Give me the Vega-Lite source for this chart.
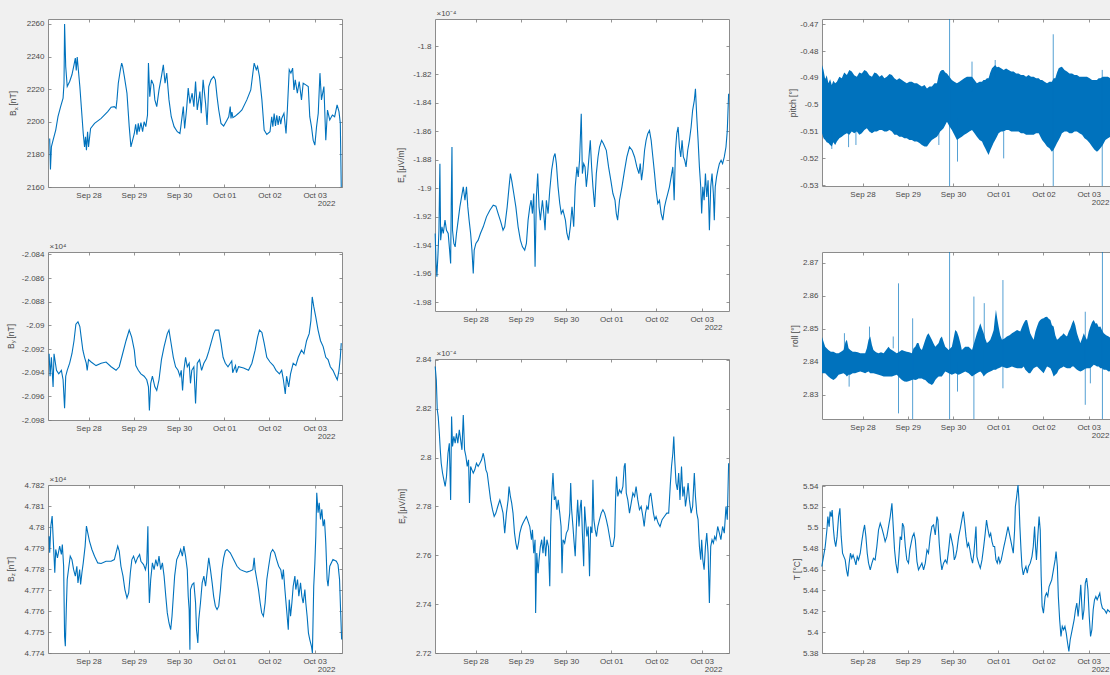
{
  "$schema": "https://vega.github.io/schema/vega-lite/v6.json",
  "background": "#f0f0f0",
  "autosize": {"type": "none"},
  "padding": {"left": 48, "top": 19, "right": 1062, "bottom": 656},
  "bounds": "flush",
  "spacing": 387,
  "config": {
    "view": {"stroke": "#8c8c8c", "strokeWidth": 1, "fill": "#ffffff"},
    "font": "Liberation Sans",
    "line": {"color": "#0072BD", "strokeWidth": 1.1, "clip": true},
    "axis": {"grid": false, "domain": false, "ticks": true, "tickSize": -3, "tickColor": "#7a7a7a", "tickWidth": 0.8,
      "labelFont": "Liberation Sans", "labelFontSize": 8, "labelColor": "#4a4a4a", "labelFlush": false, "labelOverlap": false,
      "titleFont": "Liberation Sans", "titleFontSize": 8.5, "titleFontWeight": "normal", "titleColor": "#4a4a4a"},
    "axisX": {"labelPadding": 7, "titleAngle": 0, "titleBaseline": "alphabetic", "titleFontSize": 8},
    "axisY": {"labelPadding": 7, "titleAngle": -90, "titleBaseline": "alphabetic", "titleAlign": "center"}
  },
  "datasets": {
    "bx": [
      {"t":3.4,"v":2189.8},{"t":3.8,"v":2170.7},{"t":4.3,"v":2184.6},{"t":5.2,"v":2188.7},{"t":6.6,"v":2194.9},{"t":7.8,"v":2203.1},{"t":9.2,"v":2209.3},{"t":10.5,"v":2214.4},{"t":11.0,"v":2223.6},{"t":11.3,"v":2260},{"t":11.9,"v":2233.9},{"t":12.7,"v":2221.6},{"t":14.0,"v":2224.7},{"t":15.2,"v":2228.8},{"t":16.3,"v":2234.9},{"t":17.0,"v":2239},{"t":17.5,"v":2231.5},{"t":18.0,"v":2239.7},{"t":18.6,"v":2231.9},{"t":19.4,"v":2221.6},{"t":20.3,"v":2207.2},{"t":21.2,"v":2192.8},{"t":21.9,"v":2184.6},{"t":22.4,"v":2190.8},{"t":22.9,"v":2182.6},{"t":23.5,"v":2193.9},{"t":24.0,"v":2184.5},{"t":25.1,"v":2195.9},{"t":27.2,"v":2199},{"t":30.7,"v":2202.1},{"t":34.2,"v":2206.2},{"t":36.0,"v":2208.9},{"t":37.7,"v":2209.3},{"t":38.6,"v":2208.2},{"t":39.1,"v":2213.4},{"t":39.8,"v":2223.6},{"t":40.9,"v":2231.9},{"t":41.6,"v":2236},{"t":42.1,"v":2233.9},{"t":43.0,"v":2227.8},{"t":44.4,"v":2217.5},{"t":45.6,"v":2197},{"t":46.5,"v":2184.6},{"t":47.4,"v":2188.7},{"t":48.3,"v":2192.8},{"t":49.0,"v":2198.5},{"t":49.7,"v":2192},{"t":50.4,"v":2199},{"t":50.9,"v":2193.9},{"t":51.8,"v":2199.5},{"t":52.7,"v":2194},{"t":53.5,"v":2200},{"t":54.4,"v":2197},{"t":55.3,"v":2204.1},{"t":55.8,"v":2236},{"t":56.5,"v":2215.4},{"t":57.4,"v":2225.7},{"t":58.5,"v":2222.6},{"t":59.2,"v":2213.4},{"t":60.2,"v":2209.3},{"t":61.4,"v":2219.5},{"t":62.7,"v":2227.8},{"t":63.7,"v":2234.9},{"t":64.6,"v":2223.6},{"t":65.5,"v":2229.8},{"t":66.7,"v":2213.4},{"t":67.9,"v":2203.1},{"t":69.4,"v":2197},{"t":71.1,"v":2193.9},{"t":72.5,"v":2192.8},{"t":73.2,"v":2199},{"t":74.3,"v":2209.3},{"t":75.0,"v":2195.9},{"t":76.0,"v":2207.2},{"t":76.9,"v":2220.6},{"t":77.8,"v":2211.3},{"t":79.0,"v":2217.5},{"t":79.9,"v":2209.3},{"t":80.8,"v":2224.7},{"t":81.7,"v":2207.2},{"t":83.1,"v":2218.5},{"t":83.8,"v":2205.2},{"t":84.8,"v":2225.7},{"t":86.1,"v":2211.3},{"t":86.9,"v":2198},{"t":87.8,"v":2221.6},{"t":89.0,"v":2225.7},{"t":90.4,"v":2227.8},{"t":91.3,"v":2225.7},{"t":92.2,"v":2215.4},{"t":93.1,"v":2207.2},{"t":94.3,"v":2199},{"t":95.7,"v":2197.4},{"t":97.5,"v":2201.1},{"t":98.4,"v":2203},{"t":98.9,"v":2207},{"t":99.2,"v":2209.3},{"t":99.6,"v":2202},{"t":100.1,"v":2206},{"t":100.6,"v":2202.5},{"t":101.9,"v":2203.5},{"t":103.6,"v":2205.2},{"t":105.4,"v":2207.2},{"t":108.0,"v":2213.4},{"t":110.1,"v":2219.5},{"t":111.2,"v":2229.8},{"t":111.9,"v":2236},{"t":113.0,"v":2231.9},{"t":113.7,"v":2233.9},{"t":114.7,"v":2227.8},{"t":116.0,"v":2213.4},{"t":117.2,"v":2194.9},{"t":118.6,"v":2192.2},{"t":120.3,"v":2193.9},{"t":121.2,"v":2203.1},{"t":121.8,"v":2197},{"t":122.5,"v":2205},{"t":123.2,"v":2197.5},{"t":123.9,"v":2204},{"t":124.6,"v":2198},{"t":125.3,"v":2203.5},{"t":126.0,"v":2198.5},{"t":126.5,"v":2202},{"t":127.7,"v":2205.2},{"t":128.8,"v":2192.8},{"t":129.5,"v":2207.2},{"t":130.5,"v":2231.9},{"t":131.4,"v":2229.8},{"t":132.3,"v":2232.9},{"t":133.0,"v":2219.5},{"t":133.7,"v":2225.7},{"t":134.8,"v":2217.5},{"t":135.8,"v":2224.7},{"t":137.0,"v":2213.4},{"t":137.9,"v":2223.6},{"t":139.3,"v":2222.6},{"t":140.6,"v":2221.6},{"t":141.4,"v":2203.1},{"t":142.3,"v":2197},{"t":143.2,"v":2188.7},{"t":144.1,"v":2185.7},{"t":145.0,"v":2197},{"t":145.9,"v":2205.2},{"t":146.8,"v":2229.8},{"t":147.6,"v":2213.4},{"t":148.9,"v":2221.6},{"t":149.9,"v":2188.7},{"t":150.8,"v":2207.2},{"t":152.0,"v":2201.1},{"t":153.4,"v":2204.1},{"t":154.6,"v":2203.1},{"t":155.9,"v":2210.3},{"t":156.9,"v":2206.2},{"t":157.6,"v":2199},{"t":158.1,"v":2160}
    ],
    "by": [
      {"t":3.1,"v":-2.0924},{"t":3.6,"v":-2.0943},{"t":4.3,"v":-2.0927},{"t":5.2,"v":-2.0952},{"t":5.7,"v":-2.0924},{"t":7.0,"v":-2.0938},{"t":8.2,"v":-2.0941},{"t":9.6,"v":-2.0938},{"t":10.5,"v":-2.0946},{"t":11.3,"v":-2.097},{"t":11.9,"v":-2.0943},{"t":12.7,"v":-2.0938},{"t":14.0,"v":-2.0932},{"t":15.2,"v":-2.0924},{"t":16.3,"v":-2.0913},{"t":17.3,"v":-2.0899},{"t":18.4,"v":-2.0897},{"t":19.4,"v":-2.0901},{"t":20.1,"v":-2.091},{"t":21.0,"v":-2.0921},{"t":21.9,"v":-2.0927},{"t":22.8,"v":-2.0932},{"t":23.3,"v":-2.0938},{"t":24.0,"v":-2.0929},{"t":25.4,"v":-2.0931},{"t":28.0,"v":-2.0934},{"t":30.7,"v":-2.0932},{"t":33.3,"v":-2.0931},{"t":36.0,"v":-2.0935},{"t":38.6,"v":-2.0938},{"t":40.3,"v":-2.0935},{"t":42.1,"v":-2.0924},{"t":43.9,"v":-2.0913},{"t":45.6,"v":-2.0904},{"t":46.9,"v":-2.091},{"t":48.3,"v":-2.0921},{"t":49.1,"v":-2.0934},{"t":50.4,"v":-2.0938},{"t":51.8,"v":-2.0941},{"t":53.5,"v":-2.0943},{"t":54.9,"v":-2.0946},{"t":55.8,"v":-2.0952},{"t":56.3,"v":-2.0972},{"t":57.0,"v":-2.0949},{"t":57.9,"v":-2.0943},{"t":59.2,"v":-2.0952},{"t":60.2,"v":-2.0955},{"t":61.4,"v":-2.0946},{"t":62.7,"v":-2.0929},{"t":64.1,"v":-2.0918},{"t":65.8,"v":-2.0907},{"t":66.7,"v":-2.0904},{"t":67.6,"v":-2.0913},{"t":69.0,"v":-2.0927},{"t":70.2,"v":-2.0935},{"t":71.5,"v":-2.0938},{"t":72.5,"v":-2.0943},{"t":73.2,"v":-2.0938},{"t":73.9,"v":-2.0955},{"t":74.6,"v":-2.0938},{"t":75.5,"v":-2.0927},{"t":76.4,"v":-2.0935},{"t":77.4,"v":-2.0932},{"t":78.1,"v":-2.0949},{"t":78.8,"v":-2.0938},{"t":79.9,"v":-2.0935},{"t":80.8,"v":-2.0966},{"t":81.7,"v":-2.0932},{"t":82.9,"v":-2.0929},{"t":84.0,"v":-2.0938},{"t":85.2,"v":-2.0932},{"t":86.6,"v":-2.0928},{"t":87.8,"v":-2.0922},{"t":89.0,"v":-2.0915},{"t":90.4,"v":-2.0907},{"t":91.3,"v":-2.0904},{"t":93.1,"v":-2.0904},{"t":94.3,"v":-2.0915},{"t":95.4,"v":-2.0927},{"t":96.6,"v":-2.0932},{"t":98.0,"v":-2.0935},{"t":99.2,"v":-2.0932},{"t":100.0,"v":-2.093},{"t":100.5,"v":-2.094},{"t":101.0,"v":-2.0938},{"t":102.0,"v":-2.0934},{"t":102.5,"v":-2.094},{"t":103.6,"v":-2.0935},{"t":106.3,"v":-2.0936},{"t":108.9,"v":-2.0938},{"t":110.7,"v":-2.0932},{"t":112.4,"v":-2.0921},{"t":113.7,"v":-2.091},{"t":114.7,"v":-2.0904},{"t":116.0,"v":-2.0906},{"t":117.2,"v":-2.0915},{"t":118.6,"v":-2.0927},{"t":120.3,"v":-2.0931},{"t":122.1,"v":-2.0934},{"t":123.5,"v":-2.0938},{"t":125.3,"v":-2.0941},{"t":126.5,"v":-2.0938},{"t":127.4,"v":-2.0946},{"t":128.4,"v":-2.0958},{"t":129.1,"v":-2.0943},{"t":130.2,"v":-2.0952},{"t":131.2,"v":-2.0941},{"t":132.6,"v":-2.0932},{"t":134.0,"v":-2.0934},{"t":135.3,"v":-2.0927},{"t":137.0,"v":-2.0921},{"t":138.3,"v":-2.0924},{"t":139.7,"v":-2.0913},{"t":141.1,"v":-2.0907},{"t":142.0,"v":-2.0896},{"t":142.7,"v":-2.0876},{"t":143.5,"v":-2.0884},{"t":144.6,"v":-2.0893},{"t":145.8,"v":-2.0904},{"t":147.1,"v":-2.0913},{"t":148.5,"v":-2.0918},{"t":149.9,"v":-2.0927},{"t":151.1,"v":-2.0929},{"t":152.3,"v":-2.0935},{"t":153.7,"v":-2.0938},{"t":155.1,"v":-2.0943},{"t":156.0,"v":-2.0946},{"t":156.9,"v":-2.0938},{"t":157.6,"v":-2.0927},{"t":158.1,"v":-2.0915}
    ],
    "bz": [
      {"t":3.1,"v":4.77956},{"t":3.4,"v":4.77877},{"t":4.0,"v":4.78004},{"t":4.7,"v":4.78052},{"t":5.2,"v":4.77956},{"t":5.7,"v":4.77861},{"t":6.1,"v":4.77782},{"t":6.6,"v":4.77893},{"t":7.5,"v":4.77853},{"t":8.7,"v":4.77909},{"t":9.6,"v":4.77869},{"t":10.1,"v":4.77917},{"t":10.8,"v":4.77813},{"t":11.3,"v":4.77479},{"t":11.7,"v":4.77432},{"t":12.2,"v":4.77607},{"t":12.7,"v":4.7775},{"t":13.6,"v":4.77813},{"t":14.3,"v":4.77861},{"t":15.2,"v":4.77845},{"t":16.1,"v":4.77797},{"t":17.0,"v":4.77766},{"t":17.8,"v":4.77813},{"t":18.4,"v":4.77734},{"t":19.3,"v":4.77797},{"t":19.8,"v":4.77726},{"t":20.5,"v":4.77782},{"t":21.2,"v":4.77829},{"t":22.2,"v":4.77909},{"t":22.9,"v":4.78004},{"t":23.6,"v":4.77972},{"t":24.5,"v":4.77933},{"t":25.8,"v":4.77893},{"t":27.2,"v":4.77861},{"t":28.9,"v":4.77829},{"t":30.7,"v":4.77826},{"t":33.3,"v":4.77837},{"t":36.0,"v":4.77837},{"t":37.7,"v":4.77845},{"t":38.6,"v":4.77877},{"t":39.5,"v":4.77909},{"t":40.3,"v":4.77885},{"t":41.2,"v":4.77813},{"t":42.3,"v":4.77766},{"t":43.3,"v":4.77702},{"t":44.4,"v":4.77662},{"t":45.3,"v":4.77686},{"t":46.2,"v":4.77782},{"t":47.0,"v":4.77845},{"t":47.9,"v":4.77861},{"t":49.0,"v":4.77829},{"t":50.0,"v":4.77853},{"t":51.1,"v":4.77869},{"t":51.8,"v":4.77837},{"t":53.2,"v":4.77821},{"t":54.2,"v":4.77797},{"t":54.9,"v":4.77829},{"t":55.5,"v":4.78004},{"t":55.8,"v":4.77797},{"t":56.3,"v":4.77638},{"t":57.0,"v":4.7775},{"t":57.9,"v":4.77829},{"t":58.8,"v":4.77797},{"t":59.7,"v":4.77845},{"t":60.6,"v":4.77813},{"t":61.4,"v":4.77861},{"t":62.3,"v":4.77797},{"t":63.2,"v":4.77829},{"t":64.1,"v":4.77766},{"t":65.0,"v":4.7767},{"t":65.8,"v":4.77591},{"t":66.7,"v":4.77543},{"t":67.6,"v":4.77511},{"t":68.3,"v":4.77575},{"t":69.0,"v":4.7767},{"t":69.7,"v":4.77766},{"t":70.8,"v":4.77845},{"t":72.0,"v":4.77869},{"t":72.9,"v":4.77893},{"t":73.8,"v":4.77861},{"t":74.6,"v":4.77909},{"t":75.5,"v":4.77861},{"t":76.4,"v":4.77797},{"t":76.9,"v":4.7767},{"t":77.4,"v":4.77607},{"t":77.8,"v":4.77416},{"t":78.1,"v":4.77702},{"t":79.0,"v":4.77726},{"t":79.9,"v":4.77734},{"t":80.8,"v":4.77638},{"t":81.3,"v":4.77511},{"t":82.0,"v":4.77448},{"t":82.5,"v":4.77559},{"t":83.4,"v":4.77638},{"t":84.3,"v":4.77734},{"t":85.2,"v":4.77766},{"t":86.1,"v":4.77718},{"t":86.9,"v":4.77782},{"t":87.8,"v":4.77853},{"t":88.7,"v":4.77797},{"t":89.6,"v":4.77734},{"t":90.4,"v":4.7767},{"t":91.3,"v":4.77623},{"t":92.2,"v":4.77607},{"t":93.1,"v":4.77623},{"t":94.0,"v":4.77702},{"t":94.8,"v":4.77797},{"t":95.7,"v":4.77853},{"t":96.6,"v":4.77885},{"t":97.5,"v":4.77893},{"t":99.2,"v":4.77877},{"t":101.0,"v":4.77845},{"t":102.8,"v":4.77813},{"t":104.5,"v":4.77797},{"t":106.3,"v":4.7779},{"t":108.0,"v":4.77785},{"t":109.8,"v":4.7779},{"t":111.2,"v":4.77797},{"t":111.9,"v":4.77853},{"t":112.4,"v":4.77797},{"t":113.3,"v":4.7775},{"t":114.2,"v":4.77702},{"t":115.1,"v":4.77638},{"t":115.9,"v":4.77591},{"t":116.8,"v":4.77575},{"t":117.7,"v":4.77638},{"t":118.6,"v":4.7775},{"t":119.6,"v":4.77813},{"t":120.7,"v":4.77877},{"t":121.7,"v":4.77893},{"t":122.8,"v":4.77877},{"t":123.8,"v":4.77845},{"t":124.9,"v":4.77813},{"t":126.0,"v":4.77797},{"t":126.8,"v":4.7775},{"t":127.4,"v":4.77797},{"t":128.2,"v":4.77702},{"t":129.1,"v":4.77607},{"t":130.0,"v":4.77511},{"t":130.5,"v":4.77654},{"t":131.2,"v":4.77575},{"t":131.9,"v":4.77638},{"t":132.6,"v":4.77718},{"t":133.5,"v":4.77766},{"t":134.0,"v":4.77702},{"t":134.9,"v":4.7775},{"t":135.6,"v":4.7767},{"t":136.5,"v":4.77734},{"t":137.2,"v":4.7767},{"t":137.9,"v":4.77638},{"t":138.8,"v":4.77702},{"t":139.3,"v":4.77638},{"t":140.0,"v":4.77575},{"t":140.7,"v":4.77495},{"t":141.4,"v":4.77464},{"t":142.3,"v":4.77432},{"t":142.8,"v":4.774},{"t":143.5,"v":4.77718},{"t":144.1,"v":4.77829},{"t":144.6,"v":4.77956},{"t":145.1,"v":4.78163},{"t":145.8,"v":4.78068},{"t":146.4,"v":4.78115},{"t":147.1,"v":4.78036},{"t":147.8,"v":4.78084},{"t":148.5,"v":4.78004},{"t":149.2,"v":4.78036},{"t":149.9,"v":4.77925},{"t":150.6,"v":4.7775},{"t":151.1,"v":4.77718},{"t":152.0,"v":4.77813},{"t":153.7,"v":4.77845},{"t":155.5,"v":4.77837},{"t":156.4,"v":4.77821},{"t":157.2,"v":4.7775},{"t":157.8,"v":4.77591},{"t":158.3,"v":4.77464}
    ],
    "ex": [
      {"t":2.6,"v":-1.9318},{"t":3.0,"v":-1.9505},{"t":3.5,"v":-1.9622},{"t":4.1,"v":-1.9458},{"t":4.6,"v":-1.9295},{"t":5.1,"v":-1.8827},{"t":5.5,"v":-1.9365},{"t":6.2,"v":-1.9271},{"t":6.9,"v":-1.9318},{"t":7.8,"v":-1.9224},{"t":8.6,"v":-1.9295},{"t":9.5,"v":-1.9318},{"t":10.1,"v":-1.9412},{"t":10.8,"v":-1.9529},{"t":11.1,"v":-1.9131},{"t":11.5,"v":-1.871},{"t":11.8,"v":-1.9295},{"t":12.5,"v":-1.9388},{"t":13.2,"v":-1.9412},{"t":13.9,"v":-1.9318},{"t":14.8,"v":-1.9224},{"t":15.7,"v":-1.9131},{"t":16.6,"v":-1.9061},{"t":17.5,"v":-1.899},{"t":18.4,"v":-1.9084},{"t":19.2,"v":-1.899},{"t":19.9,"v":-1.9131},{"t":20.6,"v":-1.9224},{"t":21.4,"v":-1.9318},{"t":22.1,"v":-1.9435},{"t":22.8,"v":-1.9599},{"t":23.3,"v":-1.9435},{"t":24.2,"v":-1.9388},{"t":25.4,"v":-1.9365},{"t":26.6,"v":-1.9318},{"t":28.1,"v":-1.9271},{"t":29.8,"v":-1.9201},{"t":31.6,"v":-1.9154},{"t":33.4,"v":-1.9119},{"t":34.8,"v":-1.9126},{"t":36.0,"v":-1.9178},{"t":37.4,"v":-1.9236},{"t":38.6,"v":-1.9295},{"t":39.5,"v":-1.9271},{"t":40.8,"v":-1.9131},{"t":41.8,"v":-1.899},{"t":42.5,"v":-1.8897},{"t":43.2,"v":-1.8944},{"t":44.3,"v":-1.9037},{"t":45.4,"v":-1.9131},{"t":46.6,"v":-1.9271},{"t":47.8,"v":-1.9365},{"t":48.9,"v":-1.9412},{"t":50.1,"v":-1.9435},{"t":51.0,"v":-1.9388},{"t":51.9,"v":-1.9224},{"t":52.8,"v":-1.9131},{"t":53.5,"v":-1.9084},{"t":54.2,"v":-1.9178},{"t":54.9,"v":-1.9037},{"t":55.6,"v":-1.9552},{"t":56.3,"v":-1.9061},{"t":57.0,"v":-1.8897},{"t":57.7,"v":-1.9131},{"t":58.4,"v":-1.9224},{"t":59.5,"v":-1.9084},{"t":60.2,"v":-1.9178},{"t":60.9,"v":-1.9295},{"t":61.6,"v":-1.9084},{"t":62.5,"v":-1.9178},{"t":63.4,"v":-1.9014},{"t":64.4,"v":-1.8873},{"t":65.5,"v":-1.878},{"t":66.2,"v":-1.8756},{"t":66.9,"v":-1.8827},{"t":67.8,"v":-1.899},{"t":68.7,"v":-1.9107},{"t":69.5,"v":-1.9178},{"t":70.4,"v":-1.9154},{"t":71.7,"v":-1.9224},{"t":72.5,"v":-1.9318},{"t":73.4,"v":-1.9365},{"t":74.3,"v":-1.9271},{"t":75.2,"v":-1.9131},{"t":76.1,"v":-1.9271},{"t":76.9,"v":-1.899},{"t":77.8,"v":-1.885},{"t":78.5,"v":-1.892},{"t":79.2,"v":-1.8803},{"t":80.1,"v":-1.8476},{"t":80.7,"v":-1.8897},{"t":81.4,"v":-1.8827},{"t":82.1,"v":-1.885},{"t":82.8,"v":-1.899},{"t":83.5,"v":-1.8897},{"t":84.2,"v":-1.878},{"t":84.9,"v":-1.8663},{"t":85.6,"v":-1.885},{"t":86.3,"v":-1.899},{"t":87.2,"v":-1.9131},{"t":88.1,"v":-1.8897},{"t":89.0,"v":-1.878},{"t":89.8,"v":-1.871},{"t":90.9,"v":-1.8663},{"t":91.9,"v":-1.8687},{"t":93.4,"v":-1.8733},{"t":94.6,"v":-1.885},{"t":95.8,"v":-1.8944},{"t":96.9,"v":-1.9037},{"t":98.0,"v":-1.9084},{"t":98.7,"v":-1.9178},{"t":99.4,"v":-1.9224},{"t":100.4,"v":-1.9084},{"t":101.7,"v":-1.899},{"t":103.1,"v":-1.8873},{"t":104.3,"v":-1.878},{"t":105.7,"v":-1.871},{"t":107.1,"v":-1.8733},{"t":108.4,"v":-1.878},{"t":109.6,"v":-1.885},{"t":110.7,"v":-1.8897},{"t":111.4,"v":-1.8827},{"t":112.1,"v":-1.8944},{"t":112.8,"v":-1.8873},{"t":113.7,"v":-1.8733},{"t":114.5,"v":-1.8663},{"t":115.4,"v":-1.8616},{"t":116.3,"v":-1.8593},{"t":117.2,"v":-1.8663},{"t":118.1,"v":-1.878},{"t":119.0,"v":-1.8897},{"t":119.8,"v":-1.9014},{"t":120.7,"v":-1.9107},{"t":121.6,"v":-1.9084},{"t":122.5,"v":-1.9178},{"t":123.4,"v":-1.9224},{"t":124.3,"v":-1.9131},{"t":125.1,"v":-1.9084},{"t":126.0,"v":-1.9037},{"t":126.9,"v":-1.899},{"t":127.8,"v":-1.892},{"t":128.7,"v":-1.885},{"t":129.4,"v":-1.9084},{"t":130.1,"v":-1.8733},{"t":130.8,"v":-1.8616},{"t":131.5,"v":-1.8569},{"t":132.2,"v":-1.871},{"t":132.9,"v":-1.878},{"t":133.6,"v":-1.8663},{"t":134.3,"v":-1.878},{"t":135.0,"v":-1.8803},{"t":135.7,"v":-1.885},{"t":136.6,"v":-1.8733},{"t":137.5,"v":-1.8663},{"t":138.4,"v":-1.8569},{"t":139.2,"v":-1.8452},{"t":140.1,"v":-1.8382},{"t":140.7,"v":-1.83},{"t":141.4,"v":-1.8499},{"t":142.1,"v":-1.8663},{"t":142.8,"v":-1.885},{"t":143.5,"v":-1.899},{"t":144.0,"v":-1.9178},{"t":144.6,"v":-1.899},{"t":145.3,"v":-1.9084},{"t":146.0,"v":-1.8897},{"t":146.7,"v":-1.9061},{"t":147.4,"v":-1.8944},{"t":148.1,"v":-1.9295},{"t":148.8,"v":-1.899},{"t":149.5,"v":-1.8897},{"t":150.2,"v":-1.9037},{"t":150.7,"v":-1.9224},{"t":151.2,"v":-1.899},{"t":151.9,"v":-1.892},{"t":152.6,"v":-1.8873},{"t":153.4,"v":-1.8827},{"t":154.3,"v":-1.8803},{"t":155.1,"v":-1.8827},{"t":156.0,"v":-1.878},{"t":156.9,"v":-1.871},{"t":157.6,"v":-1.8593},{"t":158.3,"v":-1.8335}
    ],
    "ey": [
      {"t":2.6,"v":2.8373},{"t":3.2,"v":2.8318},{"t":3.7,"v":2.8196},{"t":4.2,"v":2.8168},{"t":4.8,"v":2.81},{"t":5.3,"v":2.8032},{"t":5.8,"v":2.7977},{"t":6.5,"v":2.7937},{"t":7.2,"v":2.7909},{"t":7.9,"v":2.7882},{"t":8.6,"v":2.7923},{"t":9.4,"v":2.8018},{"t":10.1,"v":2.8059},{"t":10.8,"v":2.7827},{"t":11.3,"v":2.8168},{"t":11.8,"v":2.8046},{"t":12.5,"v":2.8087},{"t":13.2,"v":2.8059},{"t":13.9,"v":2.81},{"t":14.6,"v":2.8059},{"t":15.4,"v":2.8114},{"t":16.1,"v":2.8073},{"t":16.8,"v":2.8032},{"t":17.5,"v":2.8175},{"t":18.2,"v":2.8032},{"t":18.9,"v":2.8005},{"t":19.6,"v":2.7964},{"t":20.3,"v":2.7991},{"t":20.8,"v":2.7814},{"t":21.4,"v":2.7964},{"t":22.1,"v":2.795},{"t":22.8,"v":2.7937},{"t":23.6,"v":2.795},{"t":24.5,"v":2.7977},{"t":25.4,"v":2.7964},{"t":26.3,"v":2.7977},{"t":27.2,"v":2.7991},{"t":28.1,"v":2.8018},{"t":28.8,"v":2.7991},{"t":29.5,"v":2.795},{"t":30.2,"v":2.7937},{"t":31.1,"v":2.7882},{"t":32.0,"v":2.7827},{"t":33.0,"v":2.7787},{"t":33.9,"v":2.7759},{"t":34.8,"v":2.7773},{"t":35.8,"v":2.78},{"t":36.9,"v":2.7827},{"t":37.8,"v":2.78},{"t":38.6,"v":2.7773},{"t":39.5,"v":2.7691},{"t":40.4,"v":2.7773},{"t":41.3,"v":2.7827},{"t":41.8,"v":2.7882},{"t":42.5,"v":2.7841},{"t":43.2,"v":2.7814},{"t":43.9,"v":2.7773},{"t":44.7,"v":2.7691},{"t":45.4,"v":2.765},{"t":46.1,"v":2.7623},{"t":46.8,"v":2.765},{"t":47.5,"v":2.7691},{"t":48.4,"v":2.7718},{"t":49.2,"v":2.7732},{"t":50.1,"v":2.7746},{"t":51.0,"v":2.7759},{"t":51.9,"v":2.7739},{"t":52.8,"v":2.7718},{"t":53.7,"v":2.7664},{"t":54.2,"v":2.7705},{"t":54.9,"v":2.7609},{"t":55.6,"v":2.7664},{"t":55.9,"v":2.7364},{"t":56.5,"v":2.7609},{"t":57.2,"v":2.7527},{"t":57.7,"v":2.7582},{"t":58.4,"v":2.7636},{"t":59.1,"v":2.7664},{"t":59.8,"v":2.7609},{"t":60.5,"v":2.7677},{"t":61.2,"v":2.7596},{"t":61.9,"v":2.7664},{"t":62.7,"v":2.7636},{"t":63.4,"v":2.7473},{"t":63.9,"v":2.7718},{"t":64.4,"v":2.7841},{"t":65.1,"v":2.7937},{"t":65.8,"v":2.7827},{"t":66.5,"v":2.7841},{"t":67.2,"v":2.7787},{"t":67.9,"v":2.7827},{"t":68.7,"v":2.7773},{"t":69.4,"v":2.7718},{"t":69.9,"v":2.7527},{"t":70.4,"v":2.7664},{"t":71.3,"v":2.765},{"t":72.2,"v":2.7691},{"t":73.1,"v":2.7705},{"t":74.0,"v":2.7773},{"t":74.5,"v":2.7896},{"t":75.0,"v":2.7787},{"t":75.7,"v":2.7718},{"t":76.2,"v":2.7664},{"t":76.9,"v":2.7596},{"t":77.5,"v":2.7718},{"t":78.2,"v":2.7827},{"t":78.9,"v":2.7718},{"t":79.6,"v":2.78},{"t":80.1,"v":2.7827},{"t":80.7,"v":2.7691},{"t":81.4,"v":2.7555},{"t":81.9,"v":2.78},{"t":82.4,"v":2.7746},{"t":83.1,"v":2.7677},{"t":83.8,"v":2.7718},{"t":84.5,"v":2.7514},{"t":85.1,"v":2.7718},{"t":85.8,"v":2.7691},{"t":86.3,"v":2.7909},{"t":86.8,"v":2.7746},{"t":87.5,"v":2.7705},{"t":88.2,"v":2.7677},{"t":88.9,"v":2.7718},{"t":89.8,"v":2.7746},{"t":90.7,"v":2.7773},{"t":91.6,"v":2.7787},{"t":92.5,"v":2.7773},{"t":93.4,"v":2.7746},{"t":94.2,"v":2.7718},{"t":95.1,"v":2.7677},{"t":96.0,"v":2.7636},{"t":96.9,"v":2.7636},{"t":97.8,"v":2.7677},{"t":98.3,"v":2.7827},{"t":98.8,"v":2.7923},{"t":99.5,"v":2.7841},{"t":100.4,"v":2.7868},{"t":101.3,"v":2.7855},{"t":102.2,"v":2.7882},{"t":102.9,"v":2.7964},{"t":103.4,"v":2.7977},{"t":104.0,"v":2.7855},{"t":104.8,"v":2.7827},{"t":105.7,"v":2.7773},{"t":106.6,"v":2.7814},{"t":107.5,"v":2.7855},{"t":108.4,"v":2.7841},{"t":109.2,"v":2.7882},{"t":110.1,"v":2.7827},{"t":111.0,"v":2.7787},{"t":111.9,"v":2.78},{"t":112.8,"v":2.7759},{"t":113.5,"v":2.7718},{"t":114.2,"v":2.7773},{"t":114.9,"v":2.78},{"t":115.6,"v":2.7787},{"t":116.3,"v":2.7841},{"t":117.0,"v":2.7855},{"t":117.7,"v":2.7814},{"t":118.4,"v":2.7773},{"t":119.1,"v":2.7746},{"t":119.8,"v":2.7759},{"t":120.9,"v":2.7732},{"t":121.9,"v":2.7718},{"t":123.0,"v":2.7746},{"t":124.2,"v":2.7759},{"t":125.5,"v":2.7773},{"t":126.5,"v":2.7773},{"t":127.3,"v":2.7882},{"t":128.0,"v":2.7964},{"t":128.7,"v":2.8018},{"t":129.2,"v":2.8087},{"t":129.7,"v":2.7991},{"t":130.4,"v":2.7896},{"t":131.1,"v":2.7868},{"t":131.8,"v":2.7937},{"t":132.5,"v":2.7827},{"t":133.3,"v":2.7964},{"t":134.0,"v":2.7841},{"t":134.7,"v":2.7882},{"t":135.4,"v":2.78},{"t":136.1,"v":2.7841},{"t":136.8,"v":2.7896},{"t":137.5,"v":2.7827},{"t":138.4,"v":2.7773},{"t":139.2,"v":2.78},{"t":140.1,"v":2.7937},{"t":140.7,"v":2.7841},{"t":141.4,"v":2.7773},{"t":142.1,"v":2.7746},{"t":142.8,"v":2.7636},{"t":143.5,"v":2.7582},{"t":144.0,"v":2.7664},{"t":144.6,"v":2.7582},{"t":145.3,"v":2.7541},{"t":146.0,"v":2.7636},{"t":146.7,"v":2.7691},{"t":147.4,"v":2.7609},{"t":148.1,"v":2.7405},{"t":148.8,"v":2.7636},{"t":149.5,"v":2.7664},{"t":150.2,"v":2.765},{"t":150.9,"v":2.7677},{"t":151.6,"v":2.7664},{"t":152.5,"v":2.7718},{"t":153.4,"v":2.7691},{"t":154.2,"v":2.7664},{"t":155.1,"v":2.7718},{"t":156.0,"v":2.7691},{"t":156.9,"v":2.78},{"t":157.6,"v":2.7746},{"t":158.3,"v":2.7977}
    ],
    "pitchBand": [
      {"t":2.5,"hi":-0.4852,"lo":-0.5106},{"t":3.3,"hi":-0.487,"lo":-0.5125},{"t":4.2,"hi":-0.4905,"lo":-0.5131},{"t":5.0,"hi":-0.489,"lo":-0.514},{"t":5.9,"hi":-0.492,"lo":-0.5143},{"t":6.8,"hi":-0.4905,"lo":-0.515},{"t":7.7,"hi":-0.4926,"lo":-0.5156},{"t":8.5,"hi":-0.491,"lo":-0.514},{"t":9.5,"hi":-0.492,"lo":-0.515},{"t":10.4,"hi":-0.4914,"lo":-0.5137},{"t":11.7,"hi":-0.4895,"lo":-0.5125},{"t":13.0,"hi":-0.4901,"lo":-0.5119},{"t":14.3,"hi":-0.488,"lo":-0.5112},{"t":15.7,"hi":-0.4889,"lo":-0.5106},{"t":17.0,"hi":-0.487,"lo":-0.5112},{"t":18.3,"hi":-0.4876,"lo":-0.51},{"t":19.6,"hi":-0.489,"lo":-0.5106},{"t":21.0,"hi":-0.4895,"lo":-0.51},{"t":22.3,"hi":-0.488,"lo":-0.5112},{"t":23.6,"hi":-0.4883,"lo":-0.5106},{"t":25.0,"hi":-0.487,"lo":-0.5094},{"t":26.3,"hi":-0.4876,"lo":-0.5088},{"t":27.6,"hi":-0.489,"lo":-0.51},{"t":29.0,"hi":-0.4895,"lo":-0.5106},{"t":30.3,"hi":-0.488,"lo":-0.51},{"t":31.6,"hi":-0.4883,"lo":-0.51},{"t":33.0,"hi":-0.4895,"lo":-0.5094},{"t":34.3,"hi":-0.4889,"lo":-0.5094},{"t":35.6,"hi":-0.4901,"lo":-0.51},{"t":36.9,"hi":-0.4895,"lo":-0.51},{"t":38.3,"hi":-0.4885,"lo":-0.5094},{"t":39.6,"hi":-0.4889,"lo":-0.51},{"t":40.9,"hi":-0.4901,"lo":-0.5112},{"t":42.2,"hi":-0.4908,"lo":-0.5112},{"t":43.5,"hi":-0.4901,"lo":-0.5119},{"t":44.9,"hi":-0.4908,"lo":-0.5119},{"t":46.2,"hi":-0.4914,"lo":-0.5125},{"t":47.5,"hi":-0.492,"lo":-0.5125},{"t":48.9,"hi":-0.4914,"lo":-0.5131},{"t":50.2,"hi":-0.4914,"lo":-0.5131},{"t":51.5,"hi":-0.492,"lo":-0.5137},{"t":52.9,"hi":-0.492,"lo":-0.5137},{"t":54.2,"hi":-0.4926,"lo":-0.5143},{"t":55.5,"hi":-0.4932,"lo":-0.515},{"t":56.9,"hi":-0.4926,"lo":-0.5156},{"t":58.2,"hi":-0.4939,"lo":-0.5156},{"t":59.5,"hi":-0.4932,"lo":-0.5143},{"t":60.8,"hi":-0.4932,"lo":-0.5131},{"t":62.2,"hi":-0.492,"lo":-0.5125},{"t":63.5,"hi":-0.492,"lo":-0.5119},{"t":64.4,"hi":-0.489,"lo":-0.511},{"t":65.2,"hi":-0.4876,"lo":-0.51},{"t":66.1,"hi":-0.487,"lo":-0.5094},{"t":67.0,"hi":-0.487,"lo":-0.5088},{"t":67.9,"hi":-0.488,"lo":-0.5075},{"t":68.8,"hi":-0.4883,"lo":-0.5063},{"t":70.1,"hi":-0.4895,"lo":-0.508},{"t":71.4,"hi":-0.4908,"lo":-0.5094},{"t":72.7,"hi":-0.4914,"lo":-0.5112},{"t":74.1,"hi":-0.492,"lo":-0.5131},{"t":75.4,"hi":-0.4914,"lo":-0.5125},{"t":76.7,"hi":-0.4908,"lo":-0.5119},{"t":78.0,"hi":-0.4901,"lo":-0.5112},{"t":79.4,"hi":-0.4895,"lo":-0.5106},{"t":80.7,"hi":-0.4895,"lo":-0.51},{"t":82.1,"hi":-0.4895,"lo":-0.5094},{"t":83.4,"hi":-0.4908,"lo":-0.5106},{"t":84.7,"hi":-0.492,"lo":-0.5119},{"t":86.1,"hi":-0.4914,"lo":-0.5131},{"t":87.4,"hi":-0.4914,"lo":-0.5137},{"t":88.2,"hi":-0.4908,"lo":-0.515},{"t":89.1,"hi":-0.4908,"lo":-0.5162},{"t":90.0,"hi":-0.4901,"lo":-0.5175},{"t":90.9,"hi":-0.4901,"lo":-0.5187},{"t":91.8,"hi":-0.488,"lo":-0.517},{"t":92.7,"hi":-0.4864,"lo":-0.5156},{"t":93.5,"hi":-0.4858,"lo":-0.5143},{"t":94.4,"hi":-0.4852,"lo":-0.5131},{"t":95.3,"hi":-0.486,"lo":-0.5119},{"t":96.2,"hi":-0.4858,"lo":-0.5106},{"t":97.5,"hi":-0.4864,"lo":-0.51},{"t":98.9,"hi":-0.487,"lo":-0.51},{"t":100.2,"hi":-0.4865,"lo":-0.5094},{"t":101.5,"hi":-0.487,"lo":-0.5094},{"t":102.9,"hi":-0.4876,"lo":-0.51},{"t":104.2,"hi":-0.4876,"lo":-0.51},{"t":105.5,"hi":-0.4883,"lo":-0.51},{"t":106.8,"hi":-0.4883,"lo":-0.51},{"t":108.1,"hi":-0.4889,"lo":-0.5106},{"t":109.5,"hi":-0.4889,"lo":-0.5106},{"t":110.8,"hi":-0.4895,"lo":-0.5112},{"t":112.1,"hi":-0.4889,"lo":-0.5112},{"t":113.4,"hi":-0.4895,"lo":-0.5112},{"t":114.8,"hi":-0.4895,"lo":-0.5112},{"t":116.1,"hi":-0.4901,"lo":-0.5106},{"t":117.5,"hi":-0.4901,"lo":-0.5106},{"t":118.4,"hi":-0.4908,"lo":-0.5119},{"t":119.3,"hi":-0.4908,"lo":-0.5131},{"t":120.6,"hi":-0.4914,"lo":-0.5143},{"t":121.9,"hi":-0.492,"lo":-0.5156},{"t":123.2,"hi":-0.4914,"lo":-0.5162},{"t":124.5,"hi":-0.4914,"lo":-0.5175},{"t":125.4,"hi":-0.4901,"lo":-0.5168},{"t":126.3,"hi":-0.4901,"lo":-0.5156},{"t":127.2,"hi":-0.488,"lo":-0.5143},{"t":128.1,"hi":-0.4864,"lo":-0.5131},{"t":129.0,"hi":-0.486,"lo":-0.5119},{"t":129.8,"hi":-0.4858,"lo":-0.5106},{"t":131.2,"hi":-0.487,"lo":-0.51},{"t":132.5,"hi":-0.4876,"lo":-0.51},{"t":133.8,"hi":-0.4883,"lo":-0.5106},{"t":135.2,"hi":-0.4883,"lo":-0.5106},{"t":136.5,"hi":-0.4889,"lo":-0.51},{"t":137.8,"hi":-0.4889,"lo":-0.51},{"t":139.1,"hi":-0.4895,"lo":-0.5106},{"t":140.5,"hi":-0.4895,"lo":-0.5112},{"t":141.8,"hi":-0.4895,"lo":-0.5125},{"t":143.1,"hi":-0.4895,"lo":-0.5131},{"t":144.5,"hi":-0.4901,"lo":-0.5143},{"t":145.8,"hi":-0.4908,"lo":-0.5156},{"t":147.1,"hi":-0.4908,"lo":-0.5168},{"t":148.4,"hi":-0.4908,"lo":-0.5175},{"t":149.3,"hi":-0.4901,"lo":-0.517},{"t":150.2,"hi":-0.4901,"lo":-0.5162},{"t":151.5,"hi":-0.4895,"lo":-0.515},{"t":152.9,"hi":-0.4895,"lo":-0.5131},{"t":154.2,"hi":-0.4895,"lo":-0.5125},{"t":155.5,"hi":-0.4901,"lo":-0.5119},{"t":156.8,"hi":-0.4901,"lo":-0.5119},{"t":158.5,"hi":-0.4905,"lo":-0.5125}
    ],
    "pitchSpikes": [
      {"t":7.7,"lo":-0.5165,"hi":-0.51},{"t":16.6,"lo":-0.5158,"hi":-0.51},{"t":20.5,"lo":-0.515,"hi":-0.51},{"t":64.5,"lo":-0.515,"hi":-0.51},{"t":70.2,"lo":-0.5303,"hi":-0.468},{"t":74.4,"lo":-0.5212,"hi":-0.505},{"t":82.1,"lo":-0.495,"hi":-0.4839},{"t":94.4,"lo":-0.49,"hi":-0.4833},{"t":98.9,"lo":-0.52,"hi":-0.51},{"t":125.2,"lo":-0.5303,"hi":-0.4737},{"t":151.2,"lo":-0.5303,"hi":-0.487}
    ],
    "rollBand": [
      {"t":2.4,"lo":2.8365,"hi":2.8476},{"t":4.2,"lo":2.8365,"hi":2.8445},{"t":5.9,"lo":2.8355,"hi":2.8435},{"t":7.2,"lo":2.8349,"hi":2.843},{"t":8.6,"lo":2.8344,"hi":2.843},{"t":10.0,"lo":2.835,"hi":2.8425},{"t":11.3,"lo":2.836,"hi":2.8425},{"t":12.6,"lo":2.8362,"hi":2.843},{"t":13.9,"lo":2.8365,"hi":2.8435},{"t":15.0,"lo":2.836,"hi":2.846},{"t":15.7,"lo":2.8355,"hi":2.8466},{"t":16.6,"lo":2.836,"hi":2.844},{"t":17.5,"lo":2.836,"hi":2.8435},{"t":18.8,"lo":2.8365,"hi":2.843},{"t":20.1,"lo":2.8365,"hi":2.843},{"t":21.5,"lo":2.8368,"hi":2.8428},{"t":22.8,"lo":2.837,"hi":2.8425},{"t":24.1,"lo":2.8368,"hi":2.8425},{"t":25.4,"lo":2.8365,"hi":2.8425},{"t":26.3,"lo":2.8368,"hi":2.844},{"t":27.2,"lo":2.837,"hi":2.8466},{"t":28.1,"lo":2.8365,"hi":2.8476},{"t":29.0,"lo":2.8365,"hi":2.845},{"t":29.8,"lo":2.8365,"hi":2.8435},{"t":31.2,"lo":2.8362,"hi":2.8428},{"t":32.5,"lo":2.836,"hi":2.8425},{"t":33.8,"lo":2.8358,"hi":2.8428},{"t":35.2,"lo":2.8355,"hi":2.8425},{"t":36.5,"lo":2.8355,"hi":2.8435},{"t":37.8,"lo":2.8355,"hi":2.8445},{"t":38.7,"lo":2.8355,"hi":2.8438},{"t":39.6,"lo":2.8355,"hi":2.8435},{"t":41.0,"lo":2.8358,"hi":2.843},{"t":42.2,"lo":2.836,"hi":2.8425},{"t":43.5,"lo":2.8352,"hi":2.843},{"t":44.9,"lo":2.8344,"hi":2.8435},{"t":46.2,"lo":2.834,"hi":2.8432},{"t":47.5,"lo":2.8339,"hi":2.843},{"t":48.8,"lo":2.8341,"hi":2.8428},{"t":50.2,"lo":2.8344,"hi":2.8425},{"t":51.1,"lo":2.8346,"hi":2.844},{"t":52.0,"lo":2.8344,"hi":2.8445},{"t":52.9,"lo":2.8346,"hi":2.8456},{"t":53.7,"lo":2.8349,"hi":2.8456},{"t":54.6,"lo":2.8349,"hi":2.844},{"t":55.5,"lo":2.8349,"hi":2.8435},{"t":56.4,"lo":2.8346,"hi":2.845},{"t":57.3,"lo":2.8344,"hi":2.8466},{"t":58.2,"lo":2.8339,"hi":2.848},{"t":59.0,"lo":2.8334,"hi":2.8486},{"t":59.9,"lo":2.8332,"hi":2.8476},{"t":60.8,"lo":2.8329,"hi":2.8466},{"t":61.7,"lo":2.8334,"hi":2.8455},{"t":62.6,"lo":2.8344,"hi":2.8445},{"t":63.5,"lo":2.835,"hi":2.845},{"t":64.4,"lo":2.8355,"hi":2.8456},{"t":65.2,"lo":2.8355,"hi":2.847},{"t":66.1,"lo":2.8355,"hi":2.8476},{"t":67.0,"lo":2.8362,"hi":2.846},{"t":67.9,"lo":2.837,"hi":2.8445},{"t":68.8,"lo":2.8368,"hi":2.844},{"t":69.7,"lo":2.8365,"hi":2.8435},{"t":70.6,"lo":2.8362,"hi":2.844},{"t":71.4,"lo":2.836,"hi":2.8445},{"t":72.3,"lo":2.8362,"hi":2.847},{"t":73.2,"lo":2.8365,"hi":2.8496},{"t":74.1,"lo":2.8362,"hi":2.849},{"t":75.0,"lo":2.836,"hi":2.8476},{"t":75.9,"lo":2.8362,"hi":2.8456},{"t":76.7,"lo":2.8365,"hi":2.8435},{"t":78.5,"lo":2.837,"hi":2.8445},{"t":80.3,"lo":2.8365,"hi":2.8445},{"t":82.1,"lo":2.8355,"hi":2.8435},{"t":83.4,"lo":2.836,"hi":2.846},{"t":84.7,"lo":2.8365,"hi":2.8486},{"t":85.6,"lo":2.8368,"hi":2.85},{"t":86.5,"lo":2.837,"hi":2.8516},{"t":87.4,"lo":2.8365,"hi":2.85},{"t":88.3,"lo":2.8355,"hi":2.8486},{"t":89.1,"lo":2.836,"hi":2.847},{"t":90.0,"lo":2.8365,"hi":2.8456},{"t":90.9,"lo":2.8368,"hi":2.846},{"t":91.8,"lo":2.837,"hi":2.8466},{"t":92.7,"lo":2.8372,"hi":2.848},{"t":93.6,"lo":2.8375,"hi":2.8496},{"t":94.2,"lo":2.8375,"hi":2.853},{"t":94.8,"lo":2.8375,"hi":2.8557},{"t":95.5,"lo":2.8378,"hi":2.853},{"t":96.2,"lo":2.838,"hi":2.8506},{"t":97.1,"lo":2.8382,"hi":2.848},{"t":98.0,"lo":2.8385,"hi":2.8466},{"t":99.3,"lo":2.8382,"hi":2.847},{"t":100.6,"lo":2.838,"hi":2.8476},{"t":102.0,"lo":2.8382,"hi":2.848},{"t":103.3,"lo":2.8385,"hi":2.8486},{"t":104.6,"lo":2.8382,"hi":2.849},{"t":106.0,"lo":2.838,"hi":2.8496},{"t":107.7,"lo":2.838,"hi":2.8491},{"t":108.6,"lo":2.838,"hi":2.8505},{"t":109.5,"lo":2.8385,"hi":2.8516},{"t":110.4,"lo":2.8375,"hi":2.8525},{"t":111.3,"lo":2.837,"hi":2.8526},{"t":112.2,"lo":2.8365,"hi":2.8505},{"t":113.0,"lo":2.8365,"hi":2.8486},{"t":113.9,"lo":2.8372,"hi":2.8475},{"t":114.8,"lo":2.838,"hi":2.8466},{"t":115.7,"lo":2.8383,"hi":2.849},{"t":116.6,"lo":2.8385,"hi":2.8506},{"t":117.5,"lo":2.838,"hi":2.852},{"t":118.3,"lo":2.8375,"hi":2.8526},{"t":119.2,"lo":2.837,"hi":2.853},{"t":120.1,"lo":2.8365,"hi":2.8531},{"t":121.0,"lo":2.8375,"hi":2.8535},{"t":121.9,"lo":2.8385,"hi":2.8536},{"t":122.8,"lo":2.8383,"hi":2.853},{"t":123.7,"lo":2.838,"hi":2.8526},{"t":124.5,"lo":2.837,"hi":2.851},{"t":125.4,"lo":2.8355,"hi":2.8506},{"t":126.3,"lo":2.836,"hi":2.848},{"t":127.2,"lo":2.8365,"hi":2.8466},{"t":128.1,"lo":2.8375,"hi":2.847},{"t":129.0,"lo":2.838,"hi":2.8476},{"t":129.9,"lo":2.8382,"hi":2.848},{"t":130.7,"lo":2.8385,"hi":2.8486},{"t":131.6,"lo":2.8382,"hi":2.848},{"t":132.5,"lo":2.838,"hi":2.8476},{"t":133.4,"lo":2.838,"hi":2.849},{"t":134.3,"lo":2.838,"hi":2.8501},{"t":135.2,"lo":2.8385,"hi":2.8516},{"t":136.0,"lo":2.8385,"hi":2.8526},{"t":136.9,"lo":2.838,"hi":2.851},{"t":137.8,"lo":2.8375,"hi":2.8486},{"t":138.7,"lo":2.8372,"hi":2.847},{"t":139.6,"lo":2.837,"hi":2.8456},{"t":140.5,"lo":2.8372,"hi":2.847},{"t":141.4,"lo":2.8375,"hi":2.8486},{"t":142.2,"lo":2.8378,"hi":2.8475},{"t":143.1,"lo":2.838,"hi":2.8466},{"t":144.0,"lo":2.838,"hi":2.849},{"t":144.9,"lo":2.838,"hi":2.8506},{"t":145.8,"lo":2.8385,"hi":2.852},{"t":146.7,"lo":2.839,"hi":2.8526},{"t":147.6,"lo":2.8388,"hi":2.8515},{"t":148.4,"lo":2.8385,"hi":2.8516},{"t":149.3,"lo":2.8385,"hi":2.8505},{"t":150.2,"lo":2.838,"hi":2.8506},{"t":151.1,"lo":2.838,"hi":2.8495},{"t":152.0,"lo":2.8375,"hi":2.8486},{"t":153.3,"lo":2.8375,"hi":2.848},{"t":154.6,"lo":2.837,"hi":2.8476},{"t":156.0,"lo":2.8372,"hi":2.847},{"t":158.5,"lo":2.8375,"hi":2.8466}
    ],
    "rollSpikes": [
      {"t":14.4,"lo":2.844,"hi":2.8486},{"t":16.9,"lo":2.8324,"hi":2.8365},{"t":27.7,"lo":2.845,"hi":2.8506},{"t":40.3,"lo":2.844,"hi":2.8476},{"t":43.1,"lo":2.8243,"hi":2.8637},{"t":50.6,"lo":2.8226,"hi":2.8531},{"t":70.2,"lo":2.8226,"hi":2.8732},{"t":74.4,"lo":2.8309,"hi":2.84},{"t":83.1,"lo":2.8226,"hi":2.8597},{"t":88.6,"lo":2.837,"hi":2.8577},{"t":98.5,"lo":2.8319,"hi":2.8647},{"t":142.2,"lo":2.8269,"hi":2.8551},{"t":144.9,"lo":2.8334,"hi":2.838},{"t":151.3,"lo":2.8226,"hi":2.8732}
    ],
    "temp": [
      {"t":2.4,"v":5.4629},{"t":3.3,"v":5.4724},{"t":4.2,"v":5.482},{"t":5.1,"v":5.4979},{"t":5.6,"v":5.5107},{"t":6.3,"v":5.5011},{"t":6.8,"v":5.5155},{"t":7.4,"v":5.5107},{"t":7.9,"v":5.517},{"t":8.6,"v":5.4979},{"t":9.1,"v":5.4884},{"t":9.8,"v":5.482},{"t":10.5,"v":5.4915},{"t":11.3,"v":5.5107},{"t":12.0,"v":5.5186},{"t":12.7,"v":5.4915},{"t":13.4,"v":5.4756},{"t":14.1,"v":5.4724},{"t":14.8,"v":5.4692},{"t":15.5,"v":5.4597},{"t":16.2,"v":5.4533},{"t":16.9,"v":5.4661},{"t":17.6,"v":5.4756},{"t":18.3,"v":5.4708},{"t":19.0,"v":5.474},{"t":19.8,"v":5.4692},{"t":20.5,"v":5.4645},{"t":21.2,"v":5.4724},{"t":21.9,"v":5.4692},{"t":22.8,"v":5.4756},{"t":23.6,"v":5.4868},{"t":24.4,"v":5.4963},{"t":25.1,"v":5.5027},{"t":25.8,"v":5.4915},{"t":26.5,"v":5.4756},{"t":27.2,"v":5.4661},{"t":28.1,"v":5.4597},{"t":29.0,"v":5.4661},{"t":29.8,"v":5.4708},{"t":30.7,"v":5.4692},{"t":31.6,"v":5.482},{"t":32.5,"v":5.4979},{"t":33.4,"v":5.5043},{"t":34.3,"v":5.4995},{"t":35.2,"v":5.4931},{"t":36.0,"v":5.4868},{"t":36.9,"v":5.4915},{"t":37.8,"v":5.5011},{"t":38.7,"v":5.5107},{"t":39.6,"v":5.5234},{"t":40.3,"v":5.5011},{"t":41.0,"v":5.4788},{"t":41.7,"v":5.4661},{"t":42.6,"v":5.4565},{"t":43.3,"v":5.4724},{"t":44.0,"v":5.4915},{"t":44.7,"v":5.4884},{"t":45.2,"v":5.5043},{"t":45.9,"v":5.5011},{"t":46.7,"v":5.482},{"t":47.5,"v":5.4692},{"t":48.4,"v":5.4661},{"t":49.1,"v":5.4788},{"t":49.8,"v":5.4852},{"t":50.5,"v":5.4915},{"t":51.3,"v":5.4947},{"t":52.0,"v":5.4884},{"t":52.9,"v":5.4676},{"t":53.7,"v":5.4597},{"t":54.6,"v":5.4629},{"t":55.5,"v":5.4661},{"t":56.4,"v":5.4597},{"t":57.3,"v":5.4661},{"t":58.2,"v":5.4788},{"t":59.0,"v":5.4756},{"t":59.9,"v":5.4915},{"t":60.8,"v":5.5011},{"t":61.7,"v":5.5027},{"t":62.6,"v":5.4931},{"t":63.5,"v":5.5107},{"t":64.0,"v":5.5075},{"t":64.7,"v":5.4852},{"t":65.4,"v":5.4692},{"t":66.1,"v":5.4597},{"t":67.0,"v":5.4661},{"t":67.9,"v":5.4692},{"t":68.8,"v":5.4661},{"t":69.7,"v":5.4788},{"t":70.6,"v":5.4947},{"t":71.3,"v":5.4884},{"t":72.0,"v":5.482},{"t":72.7,"v":5.4692},{"t":73.4,"v":5.4724},{"t":74.1,"v":5.4788},{"t":75.0,"v":5.4915},{"t":75.9,"v":5.4995},{"t":76.7,"v":5.5075},{"t":77.5,"v":5.5155},{"t":78.2,"v":5.5043},{"t":78.9,"v":5.4915},{"t":79.6,"v":5.482},{"t":80.3,"v":5.4852},{"t":81.0,"v":5.4788},{"t":81.7,"v":5.4708},{"t":82.4,"v":5.4661},{"t":83.1,"v":5.4756},{"t":83.8,"v":5.4915},{"t":84.2,"v":5.5011},{"t":84.7,"v":5.4724},{"t":85.6,"v":5.4661},{"t":86.5,"v":5.4613},{"t":87.4,"v":5.4692},{"t":88.3,"v":5.482},{"t":89.1,"v":5.4947},{"t":89.8,"v":5.5075},{"t":90.6,"v":5.4979},{"t":91.3,"v":5.4915},{"t":92.0,"v":5.4947},{"t":92.7,"v":5.4868},{"t":93.4,"v":5.482},{"t":94.1,"v":5.482},{"t":94.8,"v":5.4692},{"t":95.5,"v":5.4661},{"t":96.2,"v":5.4724},{"t":96.9,"v":5.4661},{"t":97.6,"v":5.4692},{"t":98.3,"v":5.4756},{"t":99.0,"v":5.482},{"t":99.8,"v":5.4884},{"t":100.5,"v":5.4947},{"t":101.2,"v":5.5011},{"t":101.9,"v":5.4947},{"t":102.6,"v":5.4884},{"t":103.3,"v":5.482},{"t":104.0,"v":5.4756},{"t":104.7,"v":5.4979},{"t":105.1,"v":5.5202},{"t":105.8,"v":5.5298},{"t":106.5,"v":5.541},{"t":107.0,"v":5.5266},{"t":107.5,"v":5.5011},{"t":108.1,"v":5.4788},{"t":108.6,"v":5.4629},{"t":109.3,"v":5.4549},{"t":110.0,"v":5.4597},{"t":110.7,"v":5.4629},{"t":111.4,"v":5.4565},{"t":112.1,"v":5.4629},{"t":113.0,"v":5.4661},{"t":113.9,"v":5.4724},{"t":114.6,"v":5.482},{"t":115.3,"v":5.5011},{"t":115.8,"v":5.482},{"t":116.3,"v":5.4692},{"t":117.0,"v":5.4915},{"t":117.7,"v":5.5107},{"t":118.3,"v":5.4979},{"t":118.8,"v":5.4533},{"t":119.3,"v":5.4246},{"t":120.0,"v":5.4182},{"t":120.9,"v":5.4342},{"t":121.6,"v":5.4374},{"t":122.3,"v":5.4342},{"t":123.0,"v":5.4437},{"t":123.7,"v":5.4469},{"t":124.4,"v":5.4501},{"t":125.3,"v":5.4597},{"t":126.2,"v":5.4692},{"t":126.7,"v":5.4772},{"t":127.4,"v":5.4629},{"t":127.9,"v":5.4342},{"t":128.6,"v":5.4119},{"t":129.3,"v":5.3959},{"t":130.0,"v":5.4055},{"t":130.7,"v":5.4023},{"t":131.4,"v":5.4055},{"t":132.1,"v":5.3991},{"t":132.8,"v":5.3896},{"t":133.5,"v":5.3816},{"t":134.2,"v":5.3927},{"t":134.9,"v":5.3991},{"t":135.6,"v":5.4055},{"t":136.3,"v":5.4119},{"t":137.0,"v":5.4214},{"t":137.7,"v":5.4278},{"t":138.4,"v":5.4151},{"t":139.1,"v":5.4278},{"t":139.8,"v":5.4453},{"t":140.3,"v":5.4278},{"t":140.8,"v":5.4119},{"t":141.5,"v":5.4214},{"t":142.2,"v":5.4469},{"t":142.9,"v":5.4517},{"t":143.6,"v":5.4406},{"t":144.3,"v":5.4151},{"t":145.0,"v":5.3959},{"t":145.7,"v":5.4023},{"t":146.4,"v":5.4214},{"t":147.1,"v":5.431},{"t":147.8,"v":5.4342},{"t":148.5,"v":5.431},{"t":149.2,"v":5.4342},{"t":149.9,"v":5.4374},{"t":150.6,"v":5.4278},{"t":151.3,"v":5.423},{"t":152.4,"v":5.4214},{"t":153.4,"v":5.4182},{"t":154.1,"v":5.4214},{"t":155.5,"v":5.419},{"t":157.0,"v":5.423},{"t":158.5,"v":5.426}
    ]
  },
  "hconcat": [
    {
      "bounds": "flush",
      "spacing": 65,
      "vconcat": [
        {
          "width": 294, "height": 168,
          "layer": [
            {"data": {"name": "bx"}, "mark": {"type": "line"},
             "encoding": {
               "x": {"field": "t", "type": "quantitative", "scale": {"domain": [2.5, 158.5], "nice": false, "zero": false},
                     "axis": {"values": [24, 48, 72, 96, 120, 144], "labelExpr": "['Sep 28','Sep 29','Sep 30','Oct 01','Oct 02','Oct 03'][datum.value/24-1]", "title": "2022", "titleX": 287, "titleY": 18, "titleAlign": "right"}},
               "y": {"field": "v", "type": "quantitative", "scale": {"domain": [2160, 2263], "nice": false, "zero": false},
                     "axis": {"values": [2160, 2180, 2200, 2220, 2240, 2260], "labelExpr": "'' + datum.value", "title": "B\u00a0\u00a0[nT]", "titleX": -32.3, "titleY": 84}}
             }},
            {"data": {"values": [{}]}, "mark": {"type": "point", "opacity": 0},
             "encoding": {
               "x": {"datum": 24, "type": "quantitative", "axis": {"orient": "top", "values": [24, 48, 72, 96, 120, 144], "labels": false, "title": null}},
               "y": {"datum": 2200, "type": "quantitative", "axis": {"orient": "right", "values": [2160, 2180, 2200, 2220, 2240, 2260], "labels": false, "title": "x", "titleFontSize": 6, "titleAngle": -90, "titleX": -324.8, "titleY": 89.3}}
             }}
          ],
          "resolve": {"axis": {"x": "independent", "y": "independent"}}
        },
        {
          "width": 294, "height": 168,
          "layer": [
            {"data": {"name": "by"}, "mark": {"type": "line"},
             "encoding": {
               "x": {"field": "t", "type": "quantitative", "scale": {"domain": [2.5, 158.5], "nice": false, "zero": false},
                     "axis": {"values": [24, 48, 72, 96, 120, 144], "labelExpr": "['Sep 28','Sep 29','Sep 30','Oct 01','Oct 02','Oct 03'][datum.value/24-1]", "title": "2022", "titleX": 287, "titleY": 18, "titleAlign": "right"}},
               "y": {"field": "v", "type": "quantitative", "scale": {"domain": [-2.098, -2.0838], "nice": false, "zero": false},
                     "axis": {"values": [-2.098, -2.096, -2.094, -2.092, -2.09, -2.088, -2.086, -2.084], "labelExpr": "'' + datum.value", "title": "B\u00a0\u00a0[nT]", "titleX": -35, "titleY": 84}}
             }},
            {"data": {"values": [{}]}, "mark": {"type": "point", "opacity": 0},
             "encoding": {
               "x": {"datum": 24, "type": "quantitative", "axis": {"orient": "top", "values": [24, 48, 72, 96, 120, 144], "labels": false, "title": "×10⁴", "titleX": 1, "titleY": -3.5, "titleAlign": "left", "titleFontSize": 8}},
               "y": {"datum": -2.09, "type": "quantitative", "axis": {"orient": "right", "values": [-2.098, -2.096, -2.094, -2.092, -2.09, -2.088, -2.086, -2.084], "labels": false, "title": "y", "titleFontSize": 6, "titleAngle": -90, "titleX": -327.5, "titleY": 89.3}}
             }}
          ],
          "resolve": {"axis": {"x": "independent", "y": "independent"}}
        },
        {
          "width": 294, "height": 168,
          "layer": [
            {"data": {"name": "bz"}, "mark": {"type": "line"},
             "encoding": {
               "x": {"field": "t", "type": "quantitative", "scale": {"domain": [2.5, 158.5], "nice": false, "zero": false},
                     "axis": {"values": [24, 48, 72, 96, 120, 144], "labelExpr": "['Sep 28','Sep 29','Sep 30','Oct 01','Oct 02','Oct 03'][datum.value/24-1]", "title": "2022", "titleX": 287, "titleY": 18, "titleAlign": "right"}},
               "y": {"field": "v", "type": "quantitative", "scale": {"domain": [4.774, 4.782], "nice": false, "zero": false},
                     "axis": {"values": [4.774, 4.775, 4.776, 4.777, 4.778, 4.779, 4.78, 4.781, 4.782], "labelExpr": "'' + datum.value", "title": "B\u00a0\u00a0[nT]", "titleX": -35, "titleY": 84}}
             }},
            {"data": {"values": [{}]}, "mark": {"type": "point", "opacity": 0},
             "encoding": {
               "x": {"datum": 24, "type": "quantitative", "axis": {"orient": "top", "values": [24, 48, 72, 96, 120, 144], "labels": false, "title": "×10⁴", "titleX": 1, "titleY": -3.5, "titleAlign": "left", "titleFontSize": 8}},
               "y": {"datum": 4.778, "type": "quantitative", "axis": {"orient": "right", "values": [4.774, 4.775, 4.776, 4.777, 4.778, 4.779, 4.78, 4.781, 4.782], "labels": false, "title": "z", "titleFontSize": 6, "titleAngle": -90, "titleX": -327.5, "titleY": 89.3}}
             }}
          ],
          "resolve": {"axis": {"x": "independent", "y": "independent"}}
        }
      ]
    },
    {
      "bounds": "flush",
      "spacing": 48,
      "vconcat": [
        {
          "width": 294, "height": 292,
          "layer": [
            {"data": {"name": "ex"}, "mark": {"type": "line"},
             "encoding": {
               "x": {"field": "t", "type": "quantitative", "scale": {"domain": [2.5, 158.5], "nice": false, "zero": false},
                     "axis": {"values": [24, 48, 72, 96, 120, 144], "labelExpr": "['Sep 28','Sep 29','Sep 30','Oct 01','Oct 02','Oct 03'][datum.value/24-1]", "title": "2022", "titleX": 287, "titleY": 18, "titleAlign": "right"}},
               "y": {"field": "v", "type": "quantitative", "scale": {"domain": [-1.9863, -1.781], "nice": false, "zero": false},
                     "axis": {"values": [-1.98, -1.96, -1.94, -1.92, -1.9, -1.88, -1.86, -1.84, -1.82, -1.8], "labelExpr": "'' + datum.value", "title": "E\u00a0\u00a0[μV/m]", "titleX": -31.5, "titleY": 146}}
             }},
            {"data": {"values": [{}]}, "mark": {"type": "point", "opacity": 0},
             "encoding": {
               "x": {"datum": 24, "type": "quantitative", "axis": {"orient": "top", "values": [24, 48, 72, 96, 120, 144], "labels": false, "title": "×10⁻⁴", "titleX": 1, "titleY": -3.5, "titleAlign": "left", "titleFontSize": 8}},
               "y": {"datum": -1.9, "type": "quantitative", "axis": {"orient": "right", "values": [-1.98, -1.96, -1.94, -1.92, -1.9, -1.88, -1.86, -1.84, -1.82, -1.8], "labels": false, "title": "x", "titleFontSize": 6, "titleAngle": -90, "titleX": -324, "titleY": 156.4}}
             }}
          ],
          "resolve": {"axis": {"x": "independent", "y": "independent"}}
        },
        {
          "width": 294, "height": 294,
          "layer": [
            {"data": {"name": "ey"}, "mark": {"type": "line"},
             "encoding": {
               "x": {"field": "t", "type": "quantitative", "scale": {"domain": [2.5, 158.5], "nice": false, "zero": false},
                     "axis": {"values": [24, 48, 72, 96, 120, 144], "labelExpr": "['Sep 28','Sep 29','Sep 30','Oct 01','Oct 02','Oct 03'][datum.value/24-1]", "title": "2022", "titleX": 287, "titleY": 18, "titleAlign": "right"}},
               "y": {"field": "v", "type": "quantitative", "scale": {"domain": [2.72, 2.8404], "nice": false, "zero": false},
                     "axis": {"values": [2.72, 2.74, 2.76, 2.78, 2.8, 2.82, 2.84], "labelExpr": "'' + datum.value", "title": "E\u00a0\u00a0[μV/m]", "titleX": -31, "titleY": 147}}
             }},
            {"data": {"values": [{}]}, "mark": {"type": "point", "opacity": 0},
             "encoding": {
               "x": {"datum": 24, "type": "quantitative", "axis": {"orient": "top", "values": [24, 48, 72, 96, 120, 144], "labels": false, "title": "×10⁻⁴", "titleX": 1, "titleY": -3.5, "titleAlign": "left", "titleFontSize": 8}},
               "y": {"datum": 2.78, "type": "quantitative", "axis": {"orient": "right", "values": [2.72, 2.74, 2.76, 2.78, 2.8, 2.82, 2.84], "labels": false, "title": "y", "titleFontSize": 6, "titleAngle": -90, "titleX": -323.5, "titleY": 157.4}}
             }}
          ],
          "resolve": {"axis": {"x": "independent", "y": "independent"}}
        }
      ]
    },
    {
      "bounds": "flush",
      "spacing": 66,
      "vconcat": [
        {
          "width": 294, "height": 167,
          "layer": [
            {"data": {"name": "pitchBand"}, "mark": {"type": "area", "color": "#0072BD", "opacity": 1, "clip": true},
             "encoding": {
               "x": {"field": "t", "type": "quantitative", "scale": {"domain": [2.5, 158.5], "nice": false, "zero": false},
                     "axis": {"values": [24, 48, 72, 96, 120, 144], "labelExpr": "['Sep 28','Sep 29','Sep 30','Oct 01','Oct 02','Oct 03'][datum.value/24-1]", "title": "2022", "titleX": 287, "titleY": 18, "titleAlign": "right"}},
               "y": {"field": "lo", "type": "quantitative", "scale": {"domain": [-0.5303, -0.468], "nice": false, "zero": false},
                     "axis": {"values": [-0.53, -0.52, -0.51, -0.5, -0.49, -0.48, -0.47], "labelExpr": "'' + datum.value", "title": "pitch [°]", "titleX": -26.8, "titleY": 83.5}},
               "y2": {"field": "hi"}
             }},
            {"data": {"name": "pitchSpikes"}, "mark": {"type": "rule", "color": "#0072BD", "strokeWidth": 0.9, "opacity": 0.75, "clip": true},
             "encoding": {
               "x": {"field": "t", "type": "quantitative", "axis": null},
               "y": {"field": "lo", "type": "quantitative", "axis": null},
               "y2": {"field": "hi"}
             }},
            {"data": {"values": [{}]}, "mark": {"type": "point", "opacity": 0},
             "encoding": {
               "x": {"datum": 24, "type": "quantitative", "axis": {"orient": "top", "values": [24, 48, 72, 96, 120, 144], "labels": false, "title": null}},
               "y": {"datum": -0.5, "type": "quantitative", "axis": {"orient": "right", "values": [-0.53, -0.52, -0.51, -0.5, -0.49, -0.48, -0.47], "labels": false, "title": null}}
             }}
          ],
          "resolve": {"axis": {"x": "independent", "y": "independent"}}
        },
        {
          "width": 294, "height": 167,
          "layer": [
            {"data": {"name": "rollBand"}, "mark": {"type": "area", "color": "#0072BD", "opacity": 1, "clip": true},
             "encoding": {
               "x": {"field": "t", "type": "quantitative", "scale": {"domain": [2.5, 158.5], "nice": false, "zero": false},
                     "axis": {"values": [24, 48, 72, 96, 120, 144], "labelExpr": "['Sep 28','Sep 29','Sep 30','Oct 01','Oct 02','Oct 03'][datum.value/24-1]", "title": "2022", "titleX": 287, "titleY": 18, "titleAlign": "right"}},
               "y": {"field": "lo", "type": "quantitative", "scale": {"domain": [2.8226, 2.8732], "nice": false, "zero": false},
                     "axis": {"values": [2.83, 2.84, 2.85, 2.86, 2.87], "labelExpr": "'' + datum.value", "title": "roll [°]", "titleX": -24.3, "titleY": 83.5}},
               "y2": {"field": "hi"}
             }},
            {"data": {"name": "rollSpikes"}, "mark": {"type": "rule", "color": "#0072BD", "strokeWidth": 0.9, "opacity": 0.75, "clip": true},
             "encoding": {
               "x": {"field": "t", "type": "quantitative", "axis": null},
               "y": {"field": "lo", "type": "quantitative", "axis": null},
               "y2": {"field": "hi"}
             }},
            {"data": {"values": [{}]}, "mark": {"type": "point", "opacity": 0},
             "encoding": {
               "x": {"datum": 24, "type": "quantitative", "axis": {"orient": "top", "values": [24, 48, 72, 96, 120, 144], "labels": false, "title": null}},
               "y": {"datum": 2.84, "type": "quantitative", "axis": {"orient": "right", "values": [2.83, 2.84, 2.85, 2.86, 2.87], "labels": false, "title": null}}
             }}
          ],
          "resolve": {"axis": {"x": "independent", "y": "independent"}}
        },
        {
          "width": 294, "height": 168,
          "layer": [
            {"data": {"name": "temp"}, "mark": {"type": "line"},
             "encoding": {
               "x": {"field": "t", "type": "quantitative", "scale": {"domain": [2.5, 158.5], "nice": false, "zero": false},
                     "axis": {"values": [24, 48, 72, 96, 120, 144], "labelExpr": "['Sep 28','Sep 29','Sep 30','Oct 01','Oct 02','Oct 03'][datum.value/24-1]", "title": "2022", "titleX": 287, "titleY": 18, "titleAlign": "right"}},
               "y": {"field": "v", "type": "quantitative", "scale": {"domain": [5.38, 5.541], "nice": false, "zero": false},
                     "axis": {"values": [5.38, 5.4, 5.42, 5.44, 5.46, 5.48, 5.5, 5.52, 5.54], "labelExpr": "'' + datum.value", "title": "T [°C]", "titleX": -22.8, "titleY": 84}}
             }},
            {"data": {"values": [{}]}, "mark": {"type": "point", "opacity": 0},
             "encoding": {
               "x": {"datum": 24, "type": "quantitative", "axis": {"orient": "top", "values": [24, 48, 72, 96, 120, 144], "labels": false, "title": null}},
               "y": {"datum": 5.46, "type": "quantitative", "axis": {"orient": "right", "values": [5.38, 5.4, 5.42, 5.44, 5.46, 5.48, 5.5, 5.52, 5.54], "labels": false, "title": null}}
             }}
          ],
          "resolve": {"axis": {"x": "independent", "y": "independent"}}
        }
      ]
    }
  ]
}
